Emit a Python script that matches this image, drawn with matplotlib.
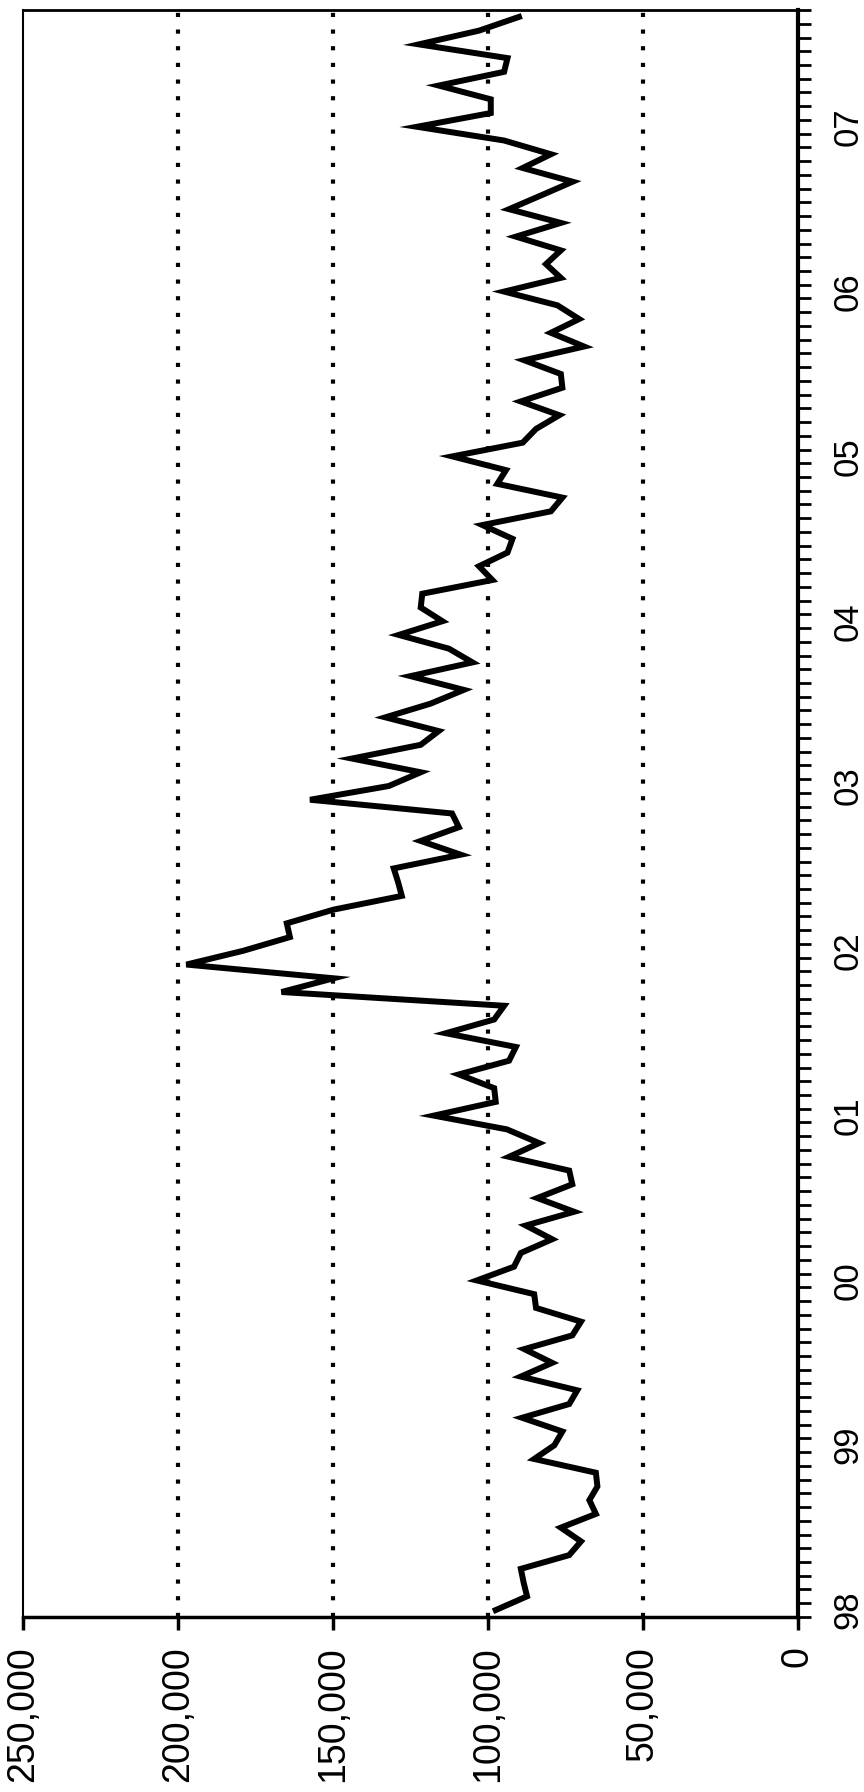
import numpy as np
import matplotlib
matplotlib.use("Agg")
import matplotlib.pyplot as plt

plt.rcParams['font.family'] = ['Liberation Sans', 'DejaVu Sans']

# monthly values, Jan 1998 .. Sep 2007 (thousands)
values_k = [
    97.5, 87.4, 88.5, 89.4, 73.8, 70.0, 76.5, 65.2, 67.3, 64.7, 65.2, 85.1,
    78.6, 76.0, 89.0, 73.8, 71.2, 89.4, 79.3, 88.3, 72.8, 70.0, 84.5, 85.1,
    103.6, 91.6, 89.4, 79.3, 87.8, 72.2, 84.1, 72.8, 73.8, 93.2, 83.5, 93.9,
    117.5, 97.5, 98.0, 109.4, 93.2, 91.0, 113.6, 98.0, 94.8, 166.6, 149.8, 197.3,
    179.0, 163.9, 164.9, 149.8, 127.8, 129.0, 130.4, 108.8, 121.7, 109.4, 111.6, 157.4,
    132.0, 121.7, 143.9, 121.7, 115.9, 133.1, 118.5, 107.8, 125.0, 105.0, 112.6, 128.8,
    114.7, 121.7, 121.2, 98.6, 102.9, 93.7, 92.1, 101.8, 79.7, 76.0, 97.0, 94.2,
    111.5, 88.8, 84.5, 77.0, 89.4, 76.0, 76.5, 88.3, 69.0, 79.7, 70.6, 77.6,
    94.8, 76.5, 81.3, 76.5, 91.0, 76.5, 93.2, 82.9, 72.7, 88.8, 79.7, 94.8,
    122.9, 99.1, 99.1, 115.9, 94.8, 93.7, 122.3, 102.9, 90.0,
]
year_labels = ['98', '99', '00', '01', '02', '03', '04', '05', '06', '07']
value_ticks = [0, 50000, 100000, 150000, 200000, 250000]
grid_values = [50000, 100000, 150000, 200000]

values = np.array(values_k) * 1000
months = np.arange(len(values))

fig = plt.figure(figsize=(8.64, 17.92), dpi=100)
ax = fig.add_axes([0.0266, 0.0977, 0.8970, 0.8967])

for g in grid_values:
    ax.axvline(g, color='black', lw=3, linestyle=(0, (1, 3)), zorder=1)

ax.plot(values, months, color='black', lw=4.3, solid_joinstyle='miter', zorder=3)

ax.set_xlim(250000, 0)
ax.set_ylim(-0.5, len(values) - 0.5)

ax.set_xticks(value_ticks)
ax.set_xticklabels([f'{v:,}' for v in value_ticks], rotation=90, fontsize=27)
ax.tick_params(axis='x', direction='out', length=9, width=2.5, pad=12)

ax.yaxis.tick_right()
ax.set_yticks(np.arange(0, len(values), 12))
ax.set_yticklabels(year_labels, rotation=90, fontsize=25, va='center')
ax.set_yticks(np.arange(-0.5, len(values), 1), minor=True)
ax.tick_params(axis='y', which='major', length=0, pad=24)
ax.tick_params(axis='y', which='minor', direction='out', length=9, width=2)

ax.spines['left'].set_linewidth(1.5)
ax.spines['top'].set_linewidth(2)
ax.spines['bottom'].set_linewidth(2.5)
ax.spines['right'].set_linewidth(3)

fig.savefig('out.png', dpi=100)
